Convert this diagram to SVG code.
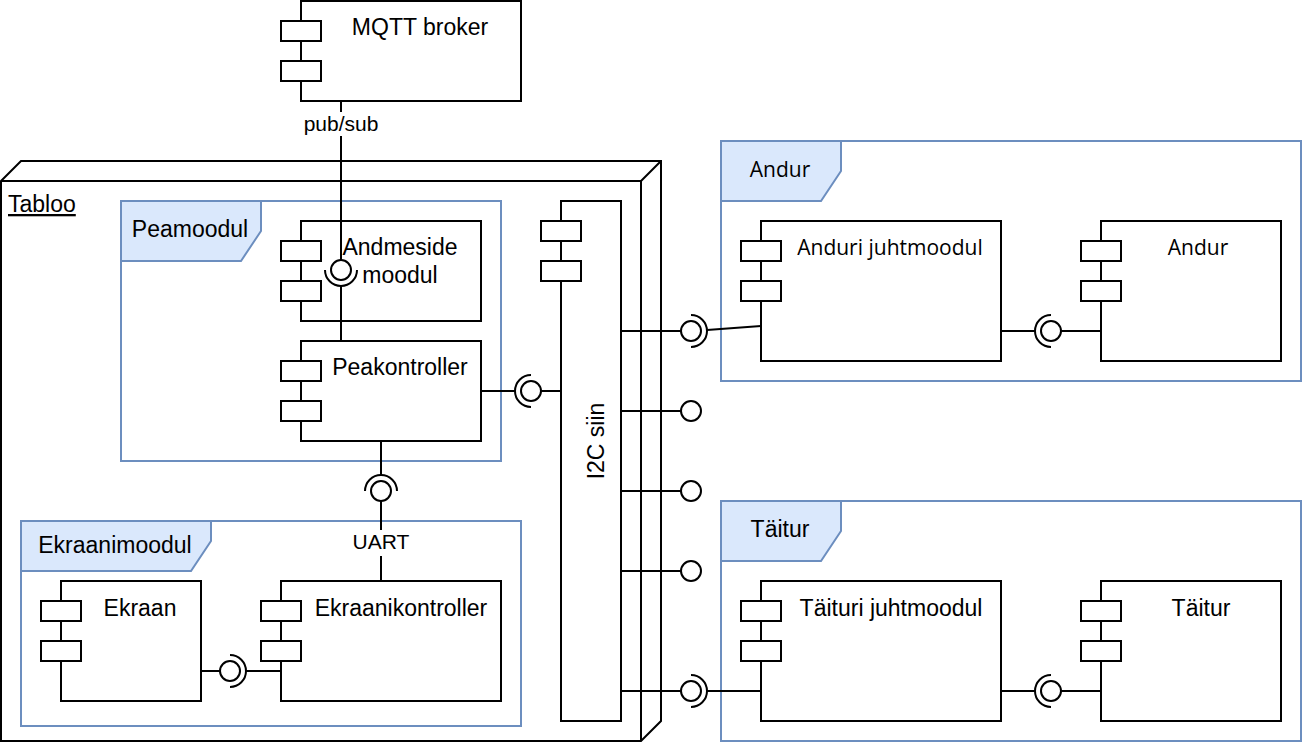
<svg xmlns="http://www.w3.org/2000/svg" width="1302" height="742" viewBox="0 0 1302 742">
<style>
.comp{fill:#fff;stroke:#000;stroke-width:2}
.frame{fill:#fff;stroke:#6c8ebf;stroke-width:2}
.tab{fill:#dae8fc;stroke:#6c8ebf;stroke-width:2}
.box{fill:#fff;stroke:#000;stroke-width:2;stroke-linejoin:miter}
.ln{fill:none;stroke:#000;stroke-width:2}
.ball{fill:#fff;stroke:#000;stroke-width:2}
.t{font-family:"Liberation Sans",Arial,sans-serif;font-size:23px;fill:#000}
.o{font-family:"Open Sans","Noto Sans",sans-serif;font-size:21px;fill:#000}
.m{text-anchor:middle}
.lbl{font-family:"Liberation Sans",Arial,sans-serif;font-size:21px;fill:#000;text-anchor:middle}
</style>
<rect width="1302" height="742" fill="#fff"/>

<g id="tabloo">
  <path class="box" d="M1,181 L21,161 L661,161 L661,721 L641,741 L1,741 Z"/>
  <path class="ln" d="M1,181 L641,181 L641,741 M641,181 L661,161"/>
  <text class="t" x="8" y="212" text-decoration="underline">Tabloo</text>
</g>

<g id="mqtt">
  <rect class="comp" x="301" y="1" width="220" height="100"/>
  <rect class="comp" x="281" y="21" width="40" height="20"/>
  <rect class="comp" x="281" y="61" width="40" height="20"/>
  <text class="t m" x="420" y="35">MQTT broker</text>
</g>

<g id="peamoodul">
  <rect class="frame" x="121" y="201" width="380" height="260"/>
  <path class="tab" d="M121,201 L261,201 L261,231 L241,261 L121,261 Z"/>
  <text class="t m" x="190" y="237">Peamoodul</text>
</g>

<g id="andmeside">
  <rect class="comp" x="301" y="221" width="180" height="100"/>
  <rect class="comp" x="281" y="241" width="40" height="20"/>
  <rect class="comp" x="281" y="281" width="40" height="20"/>
  <text class="t m" x="400" y="255">Andmeside</text>
  <text class="t m" x="400" y="283">moodul</text>
</g>

<g id="peakontroller">
  <rect class="comp" x="301" y="341" width="180" height="100"/>
  <rect class="comp" x="281" y="361" width="40" height="20"/>
  <rect class="comp" x="281" y="401" width="40" height="20"/>
  <text class="t m" x="400" y="375">Peakontroller</text>
</g>

<g id="ekraanimoodul">
  <rect class="frame" x="21" y="521" width="500" height="205"/>
  <path class="tab" d="M21,521 L211,521 L211,541 L191,571 L21,571 Z"/>
  <text class="t m" x="115" y="553">Ekraanimoodul</text>
</g>

<g id="ekraan">
  <rect class="comp" x="61" y="581" width="140" height="120"/>
  <rect class="comp" x="41" y="601" width="40" height="20"/>
  <rect class="comp" x="41" y="641" width="40" height="20"/>
  <text class="t m" x="140" y="616">Ekraan</text>
</g>

<g id="ekraanikontroller">
  <rect class="comp" x="281" y="581" width="220" height="120"/>
  <rect class="comp" x="261" y="601" width="40" height="20"/>
  <rect class="comp" x="261" y="641" width="40" height="20"/>
  <text class="t m" x="401" y="616">Ekraanikontroller</text>
</g>

<g id="i2c">
  <rect class="comp" x="561" y="201" width="60" height="520"/>
  <rect class="comp" x="541" y="221" width="40" height="20"/>
  <rect class="comp" x="541" y="261" width="40" height="20"/>
  <text class="t m" transform="translate(604,441) rotate(-90)">I2C siin</text>
</g>

<g id="andur-frame">
  <rect class="frame" x="721" y="141" width="580" height="240"/>
  <path class="tab" d="M721,141 L841,141 L841,171 L821,201 L721,201 Z"/>
  <text class="o m" x="780" y="177">Andur</text>
</g>

<g id="anduri-juhtmoodul">
  <rect class="comp" x="761" y="221" width="240" height="140"/>
  <rect class="comp" x="741" y="241" width="40" height="20"/>
  <rect class="comp" x="741" y="281" width="40" height="20"/>
  <text class="o m" x="890" y="255">Anduri juhtmoodul</text>
</g>

<g id="andur">
  <rect class="comp" x="1101" y="221" width="180" height="140"/>
  <rect class="comp" x="1081" y="241" width="40" height="20"/>
  <rect class="comp" x="1081" y="281" width="40" height="20"/>
  <text class="o m" x="1198" y="255">Andur</text>
</g>

<g id="taitur-frame">
  <rect class="frame" x="721" y="501" width="580" height="240"/>
  <path class="tab" d="M721,501 L841,501 L841,531 L821,561 L721,561 Z"/>
  <text class="t m" x="780" y="537">Täitur</text>
</g>

<g id="taituri-juhtmoodul">
  <rect class="comp" x="761" y="581" width="240" height="140"/>
  <rect class="comp" x="741" y="601" width="40" height="20"/>
  <rect class="comp" x="741" y="641" width="40" height="20"/>
  <text class="t m" x="891" y="616">Täituri juhtmoodul</text>
</g>

<g id="taitur">
  <rect class="comp" x="1101" y="581" width="180" height="140"/>
  <rect class="comp" x="1081" y="601" width="40" height="20"/>
  <rect class="comp" x="1081" y="641" width="40" height="20"/>
  <text class="t m" x="1201" y="616">Täitur</text>
</g>

<g id="connectors">
  <path class="ln" d="M341,101 L341,260"/>
  <rect x="301" y="112" width="80" height="24" fill="#fff"/>
  <text class="lbl" x="341" y="131">pub/sub</text>
  <circle class="ball" cx="341" cy="270" r="10"/>
  <path class="ln" d="M325,270 A16,16 0 0 0 357,270"/>
  <path class="ln" d="M341,286 L341,341"/>

  <path class="ln" d="M481,391 L515,391"/>
  <path class="ln" d="M531,375 A16,16 0 0 0 531,407"/>
  <circle class="ball" cx="531" cy="391" r="10"/>
  <path class="ln" d="M541,391 L561,391"/>

  <path class="ln" d="M381,441 L381,475"/>
  <path class="ln" d="M365,491 A16,16 0 0 1 397,491"/>
  <circle class="ball" cx="381" cy="491" r="10"/>
  <path class="ln" d="M381,501 L381,581"/>
  <rect x="347" y="530" width="68" height="26" fill="#fff"/>
  <text class="lbl" x="381" y="549">UART</text>

  <path class="ln" d="M201,671 L220,671"/>
  <circle class="ball" cx="230" cy="671" r="10"/>
  <path class="ln" d="M230,655 A16,16 0 0 1 230,687"/>
  <path class="ln" d="M246,671 L281,671"/>

  <path class="ln" d="M621,331 L681,331 M621,411 L681,411 M621,491 L681,491 M621,571 L681,571 M621,691 L681,691"/>
  <circle class="ball" cx="691" cy="331" r="10"/>
  <circle class="ball" cx="691" cy="411" r="10"/>
  <circle class="ball" cx="691" cy="491" r="10"/>
  <circle class="ball" cx="691" cy="571" r="10"/>
  <circle class="ball" cx="691" cy="691" r="10"/>
  <path class="ln" d="M691,315 A16,16 0 0 1 691,347"/>
  <path class="ln" d="M707,330 L761,326"/>
  <path class="ln" d="M691,675 A16,16 0 0 1 691,707"/>
  <path class="ln" d="M707,691 L761,691"/>

  <path class="ln" d="M1001,331 L1035,331"/>
  <path class="ln" d="M1051,315 A16,16 0 0 0 1051,347"/>
  <circle class="ball" cx="1051" cy="331" r="10"/>
  <path class="ln" d="M1061,331 L1101,331"/>

  <path class="ln" d="M1001,691 L1035,691"/>
  <path class="ln" d="M1051,675 A16,16 0 0 0 1051,707"/>
  <circle class="ball" cx="1051" cy="691" r="10"/>
  <path class="ln" d="M1061,691 L1101,691"/>
</g>
</svg>
